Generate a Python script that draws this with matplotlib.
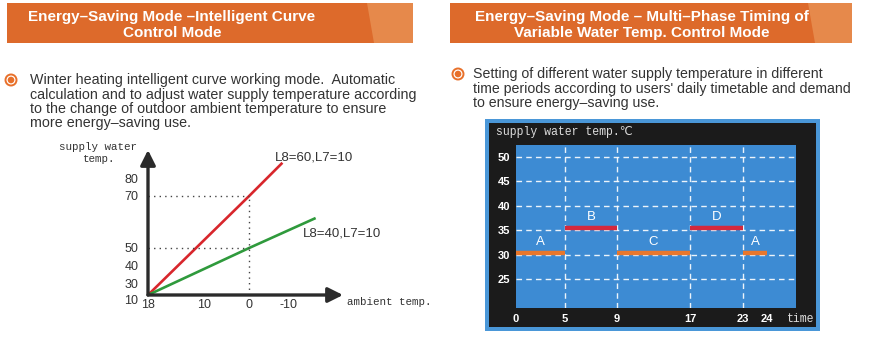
import numpy as np
import matplotlib
matplotlib.use("Agg")
import matplotlib.pyplot as plt
from matplotlib.patches import Rectangle, Polygon, Circle
from matplotlib.transforms import ScaledTranslation

plt.rcParams['font.family'] = ['Liberation Sans', 'DejaVu Sans']

# ---- data: intelligent curve (left) ----
ambient_ticks = [18, 10, 0, -10]
supply_ticks = [10, 30, 40, 50, 70, 80]
red_x = [18, 0, -8.5]
red_y = [10, 70, 89.5]
green_x = [18, 0, -17]
green_y = [10, 50, 61.5]
red_label = "L8=60,L7=10"
green_label = "L8=40,L7=10"

# ---- data: multi-phase timing (right) ----
hour_ticks = [0, 5, 9, 17, 23, 24]
temp_ticks = [25, 30, 35, 40, 45, 50]
grid_hours = [5, 9, 17, 23]
seg_names = ["A", "B", "C", "D", "A"]
seg_start = [0, 5, 9, 17, 23]
seg_end = [5, 9, 17, 23, 24]
seg_temp = [30, 35, 30, 35, 30]

ORANGE = "#dd6a2b"
LIGHT_OR = "#e6894b"
TXT = "#333333"

fig = plt.figure(figsize=(8.74, 3.6), dpi=100)
bg = fig.add_axes([0, 0, 1, 1])
bg.set_xlim(0, 874)
bg.set_ylim(360, 0)
bg.axis('off')


def header(x0, x1, split, cx, lines):
    bg.add_patch(Rectangle((x0, 3), x1 - x0, 40, color=ORANGE, lw=0))
    bg.add_patch(Polygon([(split, 3), (x1, 3), (x1, 43), (split + 7, 43)],
                         color=LIGHT_OR, lw=0))
    for y, s in zip([17, 33], lines):
        bg.text(cx, y, s, color="white", fontsize=11, fontweight="bold",
                ha="center", va="center")


def bullet(x, y):
    bg.add_patch(Circle((x, y), 5.5, fc="white", ec="#e8702a", lw=1.4))
    bg.add_patch(Circle((x, y), 3.3, fc="#e8702a", lw=0))


header(7, 413, 367, 172, ["Energy–Saving Mode –Intelligent Curve", "Control Mode"])
header(450, 852, 808, 642, ["Energy–Saving Mode – Multi–Phase Timing of",
                            "Variable Water Temp. Control Mode"])

bullet(11, 80)
left_txt = ["Winter heating intelligent curve working mode.  Automatic",
            "calculation and to adjust water supply temperature according",
            "to the change of outdoor ambient temperature to ensure",
            "more energy–saving use."]
for y, s in zip([80, 94.5, 109, 123.5], left_txt):
    bg.text(30, y, s, fontsize=10.3, color=TXT, va="center")

bullet(458, 74)
right_txt = ["Setting of different water supply temperature in different",
             "time periods according to users' daily timetable and demand",
             "to ensure energy–saving use."]
for y, s in zip([74, 89, 103.5], right_txt):
    bg.text(473, y, s, fontsize=10.2, color=TXT, va="center")

# ---- left chart (schematic, piecewise scales) ----
xa_v = [-30, -20, -10, 0, 10, 18]
xa_p = [-218, -179, -140, -101, -56, 0]
ya_v = [10, 30, 40, 50, 70, 80, 90, 100]
ya_p = [0, 11, 29, 47, 99, 116, 133, 150]

ax = fig.add_axes([148 / 874, 65 / 360, 195 / 874, 145 / 360])
ax.patch.set_alpha(0)
ax.set_xscale('function', functions=(lambda v: np.interp(v, xa_v, xa_p),
                                     lambda p: np.interp(p, xa_p, xa_v)))
ax.set_yscale('function', functions=(lambda v: np.interp(v, ya_v, ya_p),
                                     lambda p: np.interp(p, ya_p, ya_v)))
ax.set_xlim(18, -24)
ax.set_ylim(10, 97)
for s in ax.spines.values():
    s.set_visible(False)

ax.plot(red_x, red_y, color="#d8262c", lw=1.9, solid_capstyle="butt")
ax.plot(green_x, green_y, color="#2f9a3c", lw=1.9, solid_capstyle="butt")
dot = dict(color="#444444", lw=1.0, ls=(0, (1, 3)))
ax.plot([18, 0], [70, 70], **dot)
ax.plot([0, 0], [10, 70], **dot)
ax.plot([18, 0], [50, 50], **dot)

arrow = dict(arrowstyle="-|>,head_length=0.9,head_width=0.45", color="#2b2b2b", lw=2.4,
             shrinkA=0, shrinkB=0)
ax.annotate("", xy=(0, 1.0), xytext=(0, 0), xycoords="axes fraction", arrowprops=arrow)
ax.annotate("", xy=(1.0, 0), xytext=(0, 0), xycoords="axes fraction", arrowprops=arrow)

ax.set_xticks(ambient_ticks)
ax.set_xticklabels([str(t) for t in ambient_ticks])
ax.set_yticks(supply_ticks)
ax.set_yticklabels([str(t) for t in supply_ticks])
ax.minorticks_off()
ax.tick_params(length=0, labelsize=9, labelcolor=TXT)
ax.tick_params(axis='x', pad=3)
ax.tick_params(axis='y', pad=7)
ax.get_yticklabels()[0].set_va("top")

bg.text(275, 157, red_label, fontsize=9.5, color=TXT, va="center")
bg.text(303, 234, green_label, fontsize=9.5, color=TXT, va="center")

mono = ['Liberation Mono', 'DejaVu Sans']
bg.text(98, 147, "supply water", fontsize=7.8, family=mono, color=TXT, ha="center", va="center")
bg.text(98, 159, "temp.", fontsize=7.8, family=mono, color=TXT, ha="center", va="center")
bg.text(347, 302, "ambient temp.", fontsize=7.8, family=mono, color=TXT, va="center")

# ---- right chart ----
bg.add_patch(Rectangle((485, 119), 335, 212, color="#4a97d8", lw=0))
bg.add_patch(Rectangle((489, 123), 327, 204, color="#1b1b1b", lw=0))
bg.text(496, 132, "supply water temp.℃", fontsize=8.3, family=mono, color="#dcdcdc", va="center")
bg.text(787, 319, "time", fontsize=8.3, family=mono, color="#dcdcdc", va="center")

hx_v = [0, 5, 9, 17, 23, 24, 30]
hx_p = [0, 49, 101, 174, 227, 251, 389]
ax2 = fig.add_axes([516 / 874, 52 / 360, 280 / 874, 163 / 360])
ax2.set_facecolor("#3d8bd3")
ax2.set_xscale('function', functions=(lambda v: np.interp(v, hx_v, hx_p),
                                      lambda p: np.interp(p, hx_p, hx_v)))
ax2.set_xlim(0, 25.26)
ax2.set_ylim(19.06, 52.46)
for s in ax2.spines.values():
    s.set_visible(False)
for t in temp_ticks:
    ax2.axhline(t, color="white", lw=1, ls=(0, (4, 3)), alpha=0.9)
for h in grid_hours:
    ax2.axvline(h, color="white", lw=1, ls=(0, (4, 3)), alpha=0.9)

lift = ax2.transData + ScaledTranslation(0, 2 / 100, fig.dpi_scale_trans)
for name, a, b, v in zip(seg_names, seg_start, seg_end, seg_temp):
    col = "#d4283c" if v > 30 else "#e8772c"
    ax2.plot([a, b], [v, v], color=col, lw=3.2, solid_capstyle="butt", transform=lift)
    ax2.annotate(name, xy=((a + b) / 2, v), xytext=(0, 13), textcoords="offset pixels",
                 ha="center", va="center", color="white", fontsize=9.5)

ax2.set_xticks(hour_ticks)
ax2.set_xticklabels([str(t) for t in hour_ticks])
ax2.set_yticks(temp_ticks)
ax2.set_yticklabels([str(t) for t in temp_ticks])
ax2.minorticks_off()
ax2.tick_params(length=0, labelsize=8, labelcolor="white")
ax2.tick_params(axis='x', pad=4)
ax2.tick_params(axis='y', pad=4)
for lab in ax2.get_xticklabels() + ax2.get_yticklabels():
    lab.set_fontweight("bold")

fig.savefig("out.png", dpi=100, facecolor="white")
